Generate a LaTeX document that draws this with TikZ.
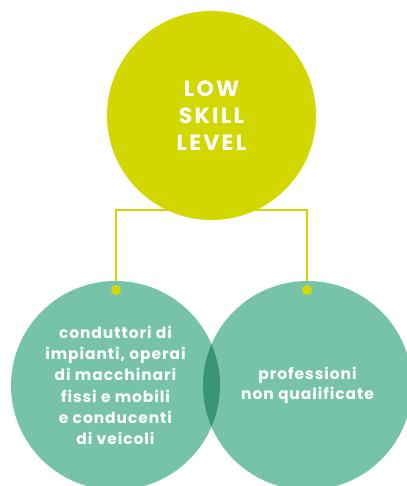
\documentclass[tikz,border=0pt]{standalone}
\usepackage{fontspec}
\setmainfont{Poppins}
\newfontfamily\headfont[LetterSpace=10]{Poppins}
\newfontfamily\bodyfont[LetterSpace=6]{Poppins}
\usepackage{tikz}
\usetikzlibrary{calc}

\definecolor{skillgreen}{HTML}{D2D700}
\definecolor{jobteal}{HTML}{76C3AA}
\definecolor{lensteal}{HTML}{3A9573}

\begin{document}
\begin{tikzpicture}[x=1pt,y=1pt,
  bigdisc/.style={circle,inner sep=0pt,minimum size=209pt,align=center,text=white},
  link/.style={draw=skillgreen,line width=2pt},
  linkdot/.style={circle,fill=skillgreen,inner sep=0pt,minimum size=10pt}]
\useasboundingbox (0,0) rectangle (406,486);
% connector behind the circles
\coordinate (dotl) at (116,196);
\coordinate (dotr) at (307,196);
\draw[link] (dotl) -- ++(0,80) -| (dotr);
% the three circles
\node[bigdisc,fill=skillgreen,font=\headfont\bfseries\fontsize{22}{26.7}\selectfont] (low) at (211.5,370.5) {LOW\\SKILL\\LEVEL};
\node[bigdisc,fill=jobteal] (left) at (115.5,100.5) {};
\node[bigdisc,fill=jobteal] (right) at (307.5,100.5) {};
\begin{scope}
\clip (left.center) circle (104.5);
\fill[lensteal] (right.center) circle (104.5);
\end{scope}
\node[bigdisc,font=\bodyfont\bfseries\fontsize{15.5}{21.3}\selectfont] (lefttxt) at (left.center) {conduttori di\\impianti, operai\\di macchinari\\fissi e mobili\\e conducenti\\di veicoli};
\node[bigdisc,font=\bodyfont\bfseries\fontsize{15.5}{20}\selectfont] (righttxt) at (right.center) {professioni\\non qualificate};
% dots on top of the teal circles
\node[linkdot] (dl) at (dotl) {};
\node[linkdot] (dr) at (dotr) {};
\end{tikzpicture}
\end{document}
